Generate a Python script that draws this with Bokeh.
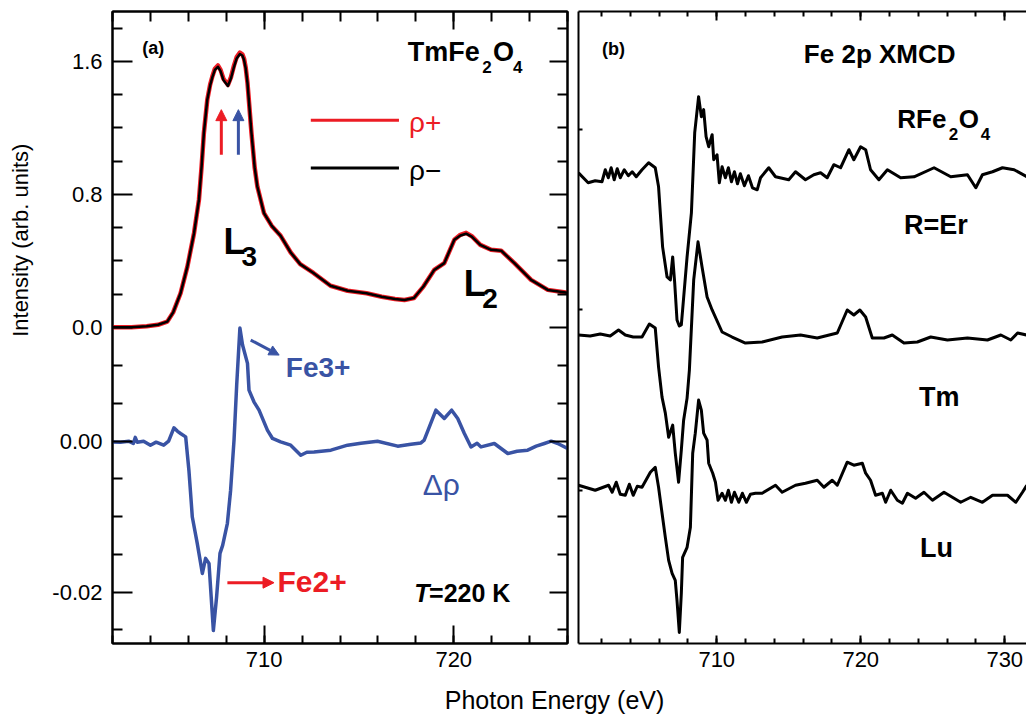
from bokeh.plotting import figure
from bokeh.models import (Range1d, LinearAxis, FixedTicker, SingleIntervalTicker,
                          CustomJSTickFormatter, Label, Arrow, NormalHead)
from bokeh.layouts import row, column
from bokeh.embed import file_html
from bokeh.resources import INLINE

FONT = "Liberation Sans"
RED = "#ec1c24"
BLUE = "#3953a4"

# ---------------- panel (a): TmFe2O4 XAS (rho+ / rho-) ----------------
energy_xas = [702.0, 703.0, 703.8, 704.4, 704.89, 705.2, 705.59, 705.95, 706.30, 706.56,
              706.70, 706.82, 707.00, 707.15, 707.27, 707.40, 707.56, 707.70, 707.85, 708.09,
              708.25, 708.41, 708.55, 708.72, 708.85, 708.94, 709.03, 709.12, 709.33, 709.50,
              709.64, 709.99, 710.4, 710.87, 711.4, 711.9, 712.6, 713.5, 714.4, 715.4,
              716.2, 716.9, 717.4, 717.9, 718.4, 718.97, 719.5, 720.03, 720.35, 720.65,
              720.95, 721.4, 721.97, 722.5, 723.2, 724.08, 724.96, 726.0]
rho_plus = [0.0, 0.001, 0.006, 0.015, 0.034, 0.09, 0.205, 0.365, 0.566, 0.767,
            0.967, 1.169, 1.369, 1.46, 1.51, 1.555, 1.575, 1.548, 1.495, 1.458,
            1.505, 1.575, 1.625, 1.652, 1.642, 1.615, 1.56, 1.47, 1.169, 0.96,
            0.847, 0.687, 0.61, 0.55, 0.45, 0.38, 0.327, 0.25, 0.22, 0.205,
            0.184, 0.17, 0.164, 0.176, 0.245, 0.345, 0.386, 0.526, 0.556, 0.568,
            0.548, 0.496, 0.466, 0.461, 0.386, 0.285, 0.225, 0.208]
rho_minus = [0.0, 0.001, 0.006, 0.015, 0.034, 0.09, 0.205, 0.365, 0.566, 0.767,
             0.967, 1.169, 1.369, 1.455, 1.505, 1.548, 1.567, 1.541, 1.488, 1.452,
             1.498, 1.567, 1.617, 1.644, 1.635, 1.608, 1.555, 1.47, 1.169, 0.96,
             0.847, 0.687, 0.61, 0.55, 0.45, 0.38, 0.327, 0.25, 0.22, 0.205,
             0.184, 0.17, 0.164, 0.176, 0.245, 0.345, 0.386, 0.526, 0.552, 0.563,
             0.545, 0.496, 0.466, 0.461, 0.386, 0.285, 0.225, 0.208]

# ---------------- panel (a): difference spectrum (delta rho) ----------------
energy_diff = [702.0, 702.42, 702.85, 703.1, 703.2, 703.3, 703.64, 704.0, 704.3, 704.7,
               704.96, 705.24, 705.43, 705.59, 705.86, 706.03, 706.21, 706.47, 706.74, 706.91,
               707.09, 707.32, 707.49, 707.67, 707.81, 708.06, 708.23, 708.41, 708.55, 708.72,
               708.86, 709.12, 709.2, 709.46, 709.73, 710.17, 710.44, 710.87, 711.4, 711.93,
               712.25, 712.63, 713.52, 714.4, 715.1, 715.98, 717.04, 717.74, 718.27, 718.44,
               719.06, 719.5, 719.89, 720.21, 720.56, 720.91, 721.23, 721.44, 722.14, 722.85,
               723.34, 723.9, 724.35, 724.78, 725.14, 725.49, 726.0]
delta_rho = [-0.0001, -0.00013, 0.0, -0.0003, 0.0005, -0.00013, 0.0, -0.00053, -0.00013, -0.00053,
             0.0, 0.00177, 0.0013, 0.00102, 0.00057, -0.00385, -0.01005, -0.01354, -0.01752, -0.01553,
             -0.01619, -0.02508, -0.02066, -0.01486, -0.0138, -0.01088, -0.0065, 0.00013, 0.0074, 0.0150,
             0.01274, 0.01031, 0.00677, 0.00522, 0.00411, 0.00146, 0.00036, -0.0001, -0.00053, -0.00186,
             -0.00146, -0.00142, -0.00119, -0.00053, -0.00027, 0.0, -0.00066, -0.0004, -0.00023, 0.00013,
             0.00411, 0.00301, 0.00411, 0.00301, 0.00102, -0.00076, -0.00027, -0.00076, -0.00031, -0.00163,
             -0.00133, -0.00119, -0.00066, -0.00031, 0.0, -0.00031, -0.00097]

# ---------------- panel (b): Fe 2p XMCD of RFe2O4 (vertically offset) ----------------
energy_er = [700.40, 701.07, 701.56, 702.03, 702.26, 702.47, 702.67, 702.88, 703.09, 703.30,
             703.58, 703.86, 704.13, 704.41, 704.81, 705.27, 705.73, 705.96, 706.24, 706.55,
             706.78, 706.94, 707.08, 707.24, 707.40, 707.54, 707.63, 707.94, 708.24, 708.47,
             708.74, 708.93, 709.09, 709.26, 709.44, 709.68, 709.79, 710.02, 710.18, 710.37,
             710.60, 710.81, 711.02, 711.23, 711.44, 711.64, 711.92, 712.20, 712.48, 712.81,
             713.04, 713.61, 714.08, 715.00, 715.47, 716.16, 716.74, 717.21, 717.67, 718.13,
             718.60, 719.18, 719.52, 719.99, 720.34, 720.68, 721.26, 721.85, 722.77, 723.70,
             725.09, 726.25, 727.41, 727.99, 728.45, 729.15, 729.84, 730.65, 731.53]
xmcd_er = [4.97, 4.87, 4.89, 4.88, 5.00, 4.92, 5.02, 4.90, 5.01, 4.92,
           5.00, 4.94, 4.98, 4.93, 5.00, 5.07, 5.02, 4.83, 4.23, 3.93,
           3.90, 4.13, 3.87, 3.50, 3.44, 3.45, 3.60, 4.13, 4.57, 5.37,
           5.73, 5.53, 5.60, 5.33, 5.23, 5.35, 5.10, 5.15, 4.87, 5.03,
           4.92, 5.02, 4.88, 4.98, 4.86, 4.96, 4.84, 4.94, 4.82, 4.80,
           4.92, 5.02, 4.93, 4.90, 4.98, 4.90, 4.95, 4.97, 4.92, 5.05,
           5.02, 5.20, 5.10, 5.23, 5.20, 5.00, 4.90, 5.00, 4.92, 4.93,
           5.02, 4.93, 4.95, 4.82, 4.95, 4.98, 5.02, 5.00, 4.93]

energy_tm = [700.40, 701.21, 701.91, 702.60, 703.18, 703.65, 704.20, 704.81, 705.32, 705.73,
             705.96, 706.20, 706.43, 706.66, 706.94, 707.12, 707.35, 707.54, 707.70, 707.94,
             708.10, 708.40, 708.70, 708.98, 709.33, 709.68, 710.37, 711.07, 711.99, 713.15,
             714.54, 715.82, 716.98, 718.37, 719.06, 719.52, 719.94, 720.34, 720.80, 721.61,
             722.19, 723.00, 723.93, 724.86, 726.02, 727.41, 728.80, 729.73, 730.42, 730.89,
             731.53]
xmcd_tm = [3.35, 3.34, 3.36, 3.34, 3.40, 3.35, 3.33, 3.33, 3.46, 3.42,
           3.03, 2.73, 2.57, 2.33, 2.45, 2.17, 1.88, 2.20, 2.50, 2.72,
           3.00, 3.90, 4.28, 4.03, 3.73, 3.60, 3.38, 3.33, 3.27, 3.28,
           3.33, 3.35, 3.32, 3.37, 3.60, 3.55, 3.60, 3.53, 3.32, 3.32,
           3.35, 3.27, 3.28, 3.33, 3.30, 3.32, 3.30, 3.35, 3.30, 3.37,
           3.35]

energy_lu = [700.40, 701.56, 702.49, 702.74, 703.02, 703.30, 703.65, 703.93, 704.20, 704.48,
             704.81, 705.39, 705.73, 705.96, 706.24, 706.43, 706.66, 706.90, 707.12, 707.24,
             707.40, 707.54, 707.63, 707.94, 708.17, 708.33, 708.51, 708.74, 708.93, 709.09,
             709.33, 709.44, 709.72, 709.91, 710.09, 710.37, 710.60, 710.81, 711.02, 711.23,
             711.53, 711.78, 712.06, 712.34, 712.69, 713.15, 714.08, 714.54, 715.47, 716.16,
             716.98, 717.44, 718.02, 718.37, 719.06, 719.52, 720.11, 720.34, 720.68, 721.03,
             721.50, 721.73, 722.08, 722.54, 722.89, 723.24, 723.81, 724.39, 724.98, 725.78,
             726.94, 727.64, 728.45, 729.15, 730.19, 730.77, 731.23, 731.53]
xmcd_lu = [1.85, 1.80, 1.85, 1.78, 1.88, 1.76, 1.75, 1.86, 1.75, 1.84,
           1.83, 1.98, 2.03, 1.83, 1.53, 1.33, 1.10, 0.97, 0.90, 0.70,
           0.38, 0.77, 1.13, 1.23, 1.43, 2.17, 2.37, 2.70, 2.60, 2.37,
           2.30, 2.07, 1.97, 1.88, 1.70, 1.77, 1.70, 1.80, 1.68, 1.78,
           1.68, 1.77, 1.68, 1.76, 1.77, 1.77, 1.85, 1.78, 1.85, 1.87,
           1.90, 1.83, 1.90, 1.85, 2.08, 2.05, 2.07, 1.97, 1.90, 1.75,
           1.77, 1.68, 1.80, 1.70, 1.67, 1.77, 1.72, 1.78, 1.70, 1.78,
           1.68, 1.73, 1.68, 1.75, 1.75, 1.68, 1.78, 1.85]

# ---------------- axis tick values ----------------
xas_major = [0.0, 0.8, 1.6]
xas_minor = [0.2, 0.4, 0.6, 1.0, 1.2, 1.4, 1.8]
diff_major = [0.0, -0.02]
diff_minor = [0.01, 0.005, -0.005, -0.01, -0.015, -0.025]
b_ticks = [1.8, 3.6, 5.4]

XAS_RANGE = (-1.9018, 1.8994)
DIFF_RANGE = (-0.026808, 0.056935)
FRAME_H = 631.0
PX_PER_UNIT = {
    "xas": FRAME_H / (XAS_RANGE[1] - XAS_RANGE[0]),
    "diff": FRAME_H / (DIFF_RANGE[1] - DIFF_RANGE[0]),
    "b": FRAME_H / (6.58 - 0.27),
}


def xas_units(v):
    u0, u1 = XAS_RANGE
    d0, d1 = DIFF_RANGE
    return u0 + (v - d0) * (u1 - u0) / (d1 - d0)


def hidden_formatter():
    return CustomJSTickFormatter(code="return '';")


def make_axis(ticker, maj_in, min_in, show_labels, formatter=None, standoff=8):
    ax = LinearAxis(ticker=ticker, major_tick_in=maj_in, major_tick_out=0,
                    minor_tick_in=min_in, minor_tick_out=0,
                    axis_line_width=2, major_tick_line_width=2, minor_tick_line_width=2,
                    major_label_text_font=FONT, major_label_text_font_size="22px",
                    major_label_text_color="black")
    if show_labels:
        ax.major_label_standoff = standoff
        if formatter is not None:
            ax.formatter = formatter
    else:
        ax.major_label_standoff = 0
        ax.major_label_text_font_size = "0px"
        ax.formatter = hidden_formatter()
    return ax


def add_text(p, x, y, text, size, scale, color="black", style="bold", rng="default"):
    # lift so that the glyph baseline lands on y (compensates the renderer's text box)
    lift = 0.36 * size / PX_PER_UNIT[scale]
    p.add_layout(Label(x=x, y=y + lift, text=text, text_font=FONT, text_font_size=f"{size}px",
                       text_font_style=style, text_color=color, text_align="left",
                       text_baseline="alphabetic", y_range_name=rng))


def blank_figure(w, h):
    f = figure(width=w, height=h, x_range=Range1d(0, w), y_range=Range1d(0, h),
               output_backend="svg", toolbar_location=None,
               x_axis_location=None, y_axis_location=None, min_border=0)
    f.grid.visible = False
    f.outline_line_color = None
    return f


# ================= y-axis title strip =================
f0 = blank_figure(40, 678)
f0.add_layout(Label(x=19.5, y=329, text="Intensity (arb. units)", angle=90, angle_units="deg",
                    text_font=FONT, text_font_size="22px", text_font_style="normal",
                    text_color="black", text_align="left", text_baseline="alphabetic"))

# ================= panel (a) =================
f1 = figure(width=532, height=678, x_range=Range1d(702, 726), y_range=Range1d(*XAS_RANGE),
            output_backend="svg", toolbar_location=None,
            x_axis_location=None, y_axis_location=None,
            min_border_left=72, min_border_right=5, min_border_top=11, min_border_bottom=35)
f1.extra_y_ranges = {"diff": Range1d(*DIFF_RANGE)}
f1.grid.visible = False
f1.outline_line_color = "black"
f1.outline_line_width = 2
f1.background_fill_color = "white"

left_ticker = FixedTicker(ticks=xas_major + [xas_units(v) for v in diff_major],
                          minor_ticks=xas_minor + [xas_units(v) for v in diff_minor])
left_fmt = CustomJSTickFormatter(
    args=dict(u0=XAS_RANGE[0], u1=XAS_RANGE[1], d0=DIFF_RANGE[0], d1=DIFF_RANGE[1]),
    code="""
    if (tick > -0.3) { return tick.toFixed(1); }
    let v = Math.round(((tick - u0) * (d1 - d0) / (u1 - u0) + d0) * 100) / 100;
    if (v === 0) { v = 0; }
    return v.toFixed(2);
    """)
f1.add_layout(make_axis(left_ticker, 20, 10, True, left_fmt, standoff=10), "left")
f1.add_layout(make_axis(left_ticker, 18, 10, False), "right")
xt_a = SingleIntervalTicker(interval=10, num_minor_ticks=5)
f1.add_layout(make_axis(xt_a, 18, 10, False), "above")
f1.add_layout(make_axis(xt_a, 18, 8, True), "below")

f1.line(energy_xas, rho_plus, line_color=RED, line_width=4.5, line_join="round")
f1.line(energy_xas, rho_minus, line_color="black", line_width=2.5, line_join="round")
f1.line(energy_diff, delta_rho, line_color=BLUE, line_width=3.5, line_join="round",
        y_range_name="diff")

# legend (swatch lines + coloured labels)
leg_x = [712.46, 717.11]
f1.line(leg_x, [1.2446, 1.2446], line_color=RED, line_width=3)
f1.line(leg_x, [0.958, 0.958], line_color="black", line_width=3)
add_text(f1, 717.64, 1.1705, "ρ+", 28, "xas", color=RED, style="normal")
add_text(f1, 717.64, 0.881, "ρ−", 28, "xas", color="black", style="normal")

# titles and labels
add_text(f1, 703.57, 1.643, "(a)", 18, "xas")
add_text(f1, 717.57, 1.600, "TmFe", 27, "xas")
add_text(f1, 721.50, 1.526, "2", 17, "xas")
add_text(f1, 722.07, 1.600, "O", 27, "xas")
add_text(f1, 723.13, 1.526, "4", 17, "xas")
add_text(f1, 707.86, 0.4355, "L", 36, "xas")
add_text(f1, 708.81, 0.365, "3", 28, "xas")
add_text(f1, 720.53, 0.184, "L", 36, "xas")
add_text(f1, 721.50, 0.1145, "2", 28, "xas")
add_text(f1, 711.14, 0.00836, "Fe3+", 28, "diff", color=BLUE, rng="diff")
add_text(f1, 718.36, -0.00717, "Δρ", 30, "diff", color=BLUE, style="normal", rng="diff")
add_text(f1, 710.70, -0.0200, "Fe2+", 30, "diff", color=RED, rng="diff")
add_text(f1, 717.92, -0.02133, "T", 25, "diff", style="bold italic", rng="diff")
add_text(f1, 718.70, -0.02133, "=220 K", 25, "diff", rng="diff")

# arrows
f1.add_layout(Arrow(x_start=707.74, y_start=1.038, x_end=707.74, y_end=1.309,
                    line_color=RED, line_width=3,
                    end=NormalHead(size=11, fill_color=RED, line_color=RED, line_width=1)))
f1.add_layout(Arrow(x_start=708.64, y_start=1.038, x_end=708.64, y_end=1.309,
                    line_color=BLUE, line_width=3,
                    end=NormalHead(size=11, fill_color=BLUE, line_color=BLUE, line_width=1)))
f1.add_layout(Arrow(x_start=709.29, y_start=0.0134, x_end=710.79, y_end=0.01141,
                    line_color=BLUE, line_width=3, y_range_name="diff",
                    end=NormalHead(size=10, fill_color=BLUE, line_color=BLUE, line_width=1)))
f1.add_layout(Arrow(x_start=708.06, y_start=-0.01875, x_end=710.52, y_end=-0.01875,
                    line_color=RED, line_width=3, y_range_name="diff",
                    end=NormalHead(size=11, fill_color=RED, line_color=RED, line_width=1)))

# ================= panel (b) =================
f2 = figure(width=454, height=678, x_range=Range1d(700.4, 731.51), y_range=Range1d(0.27, 6.58),
            output_backend="svg", toolbar_location=None,
            x_axis_location=None, y_axis_location=None,
            min_border_left=6, min_border_right=0, min_border_top=11, min_border_bottom=35)
f2.grid.visible = False
f2.outline_line_color = None
f2.add_layout(make_axis(FixedTicker(ticks=b_ticks, minor_ticks=[]), 4, 0, False), "left")
xt_b = SingleIntervalTicker(interval=10, num_minor_ticks=5)
f2.add_layout(make_axis(xt_b, 9, 5, False), "above")
f2.add_layout(make_axis(xt_b, 8, 5, True), "below")

for e, s in ((energy_er, xmcd_er), (energy_tm, xmcd_tm), (energy_lu, xmcd_lu)):
    f2.line(e, s, line_color="black", line_width=3, line_join="round")

add_text(f2, 702.03, 6.14, "(b)", 18, "b")
add_text(f2, 716.05, 6.067, "Fe 2p XMCD", 26, "b")
add_text(f2, 722.54, 5.417, "RFe", 26, "b")
add_text(f2, 726.11, 5.30, "2", 17, "b")
add_text(f2, 726.80, 5.417, "O", 26, "b")
add_text(f2, 728.33, 5.30, "4", 17, "b")
add_text(f2, 723.0, 4.35, "R=Er", 27, "b")
add_text(f2, 724.04, 2.633, "Tm", 27, "b")
add_text(f2, 724.11, 1.127, "Lu", 27, "b")

# ================= shared x-axis title =================
f3 = blank_figure(1026, 38)
f3.add_layout(Label(x=554, y=8 + 0.36 * 25, text="Photon Energy (eV)", text_font=FONT,
                    text_font_size="25px", text_font_style="normal", text_color="black",
                    text_align="center", text_baseline="alphabetic"))

layout = column(row(f0, f1, f2), f3)
open("out.html", "w").write(file_html(layout, INLINE))
